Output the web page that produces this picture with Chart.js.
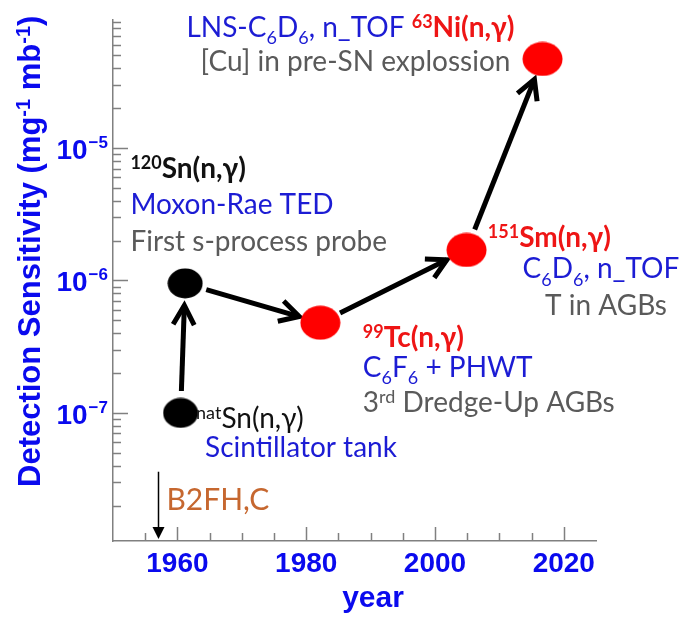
<!DOCTYPE html>
<html>
<head>
<meta charset="utf-8">
<script src="https://cdn.jsdelivr.net/npm/chart.js@4.4.1/dist/chart.umd.min.js"></script>
<style>
  html, body { margin: 0; padding: 0; background: #fff; }
  #wrap { width: 679px; height: 617px; position: relative; }
</style>
</head>
<body>
<div id="wrap"><canvas id="chart"></canvas></div>
<script>
const reactions = ['natSn(n,γ)', '120Sn(n,γ)', '99Tc(n,γ)', '151Sm(n,γ)', '63Ni(n,γ)'];
const years = [1960.5, 1961.2, 1982.2, 2004.9, 2016.7];
const sensitivity = [1.0e-7, 9.5e-7, 4.8e-7, 1.7e-6, 4.7e-5];
const radioactive = [false, false, true, true, true];

// Axis ticks
const yearTicks = [1960, 1980, 2000, 2020];
const decadeTicks = [1e-7, 1e-6, 1e-5];
const b2fhYear = 1957;

const AXIS_BLUE = '#0a0aee';
const COL = { blue: '#1c1cd4', gray: '#5a5a5a', red: '#ee1515', black: '#111', orange: '#c6672f' };
const TEXT_FONT = 'Lato, "Noto Sans", sans-serif';
const AXIS_FONT = '"Liberation Sans", Arial, sans-serif';

// small helper for rich text segments
const T = (t, c, opt = {}) => Object.assign({ t, c }, opt);

// annotation text, anchored at (year, sensitivity) of the left end of the baseline
const notes = [
    { x: 1961.4, y: 6.9e-5, segs: [T('LNS-C', 'blue'), T('6', 'blue', { s: 'sub' }), T('D', 'blue'), T('6', 'blue', { s: 'sub' }),
        T(', n_TOF ', 'blue'), T('63', 'red', { s: 'sup', b: 1 }), T('Ni(n,γ)', 'red', { b: 1 })] },
    { x: 1963.6, y: 3.81e-5, segs: [T('[Cu] in pre-SN explossion', 'gray')] },
    { x: 1952.7, y: 5.94e-6, segs: [T('120', 'black', { s: 'sup', b: 1 }), T('Sn(n,γ)', 'black', { b: 1 })] },
    { x: 1952.7, y: 3.18e-6, segs: [T('Moxon-Rae TED', 'blue')] },
    { x: 1952.7, y: 1.67e-6, segs: [T('First s-process probe', 'gray')] },
    { x: 2008.2, y: 1.79e-6, segs: [T('151', 'red', { s: 'sup', b: 1 }), T('Sm(n,γ)', 'red', { b: 1 })] },
    { x: 2013.6, y: 1.04e-6, segs: [T('C', 'blue'), T('6', 'blue', { s: 'sub' }), T('D', 'blue'), T('6', 'blue', { s: 'sub' }), T(', n_TOF', 'blue')] },
    { x: 2017.1, y: 5.5e-7, segs: [T('T in AGBs', 'gray')] },
    { x: 1988.8, y: 3.15e-7, segs: [T('99', 'red', { s: 'sup', b: 1 }), T('Tc(n,γ)', 'red', { b: 1 })] },
    { x: 1988.8, y: 1.87e-7, segs: [T('C', 'blue'), T('6', 'blue', { s: 'sub' }), T('F', 'blue'), T('6', 'blue', { s: 'sub' }), T(' + PHWT', 'blue')] },
    { x: 1988.8, y: 1.02e-7, segs: [T('3', 'gray'), T('rd', 'gray', { s: 'sup' }), T(' Dredge-Up AGBs', 'gray')] },
    { x: 1962.9, y: 7.7e-8, segs: [T('nat', 'black', { s: 'sup' }), T('Sn(n,γ)', 'black')] },
    { x: 1964.3, y: 4.66e-8, segs: [T('Scintillator tank', 'blue')] },
    { x: 1958.3, y: 1.85e-8, size: 30, segs: [T('B2FH,C', 'orange')] }
];

function richText(ctx, x, y, segs, size, family) {
    ctx.textBaseline = 'alphabetic';
    ctx.textAlign = 'left';
    for (const s of segs) {
        const small = s.s === 'sup' || s.s === 'sub';
        const fs = small ? Math.round(size * 0.63) : size;
        ctx.font = (s.b ? 'bold ' : '') + fs + 'px ' + family;
        ctx.fillStyle = COL[s.c] || s.c;
        const dy = s.s === 'sup' ? -size * 0.33 : s.s === 'sub' ? size * 0.27 : 0;
        ctx.fillText(s.t, x, y + dy);
        x += ctx.measureText(s.t).width;
    }
}

function ellipseImg(color, w, h) {
    const c = document.createElement('canvas');
    c.width = w; c.height = h;
    const g = c.getContext('2d');
    g.fillStyle = color;
    g.beginPath();
    g.ellipse(w / 2, h / 2, w / 2 - 0.5, h / 2 - 0.5, 0, 0, Math.PI * 2);
    g.fill();
    return c;
}
const blackDot = ellipseImg('#000', 36, 31);
const redDot = ellipseImg('#ff0000', 41, 35);

function arrow(ctx, x0, y0, x1, y1, trim0, trim1) {
    const dx = x1 - x0, dy = y1 - y0, L = Math.hypot(dx, dy);
    const ux = dx / L, uy = dy / L;
    const sx = x0 + ux * trim0, sy = y0 + uy * trim0;
    const ex = x1 - ux * trim1, ey = y1 - uy * trim1;
    const a = Math.atan2(uy, ux), h = 22, w = 0.5;
    ctx.beginPath();
    ctx.moveTo(sx, sy);
    ctx.lineTo(ex, ey);
    ctx.stroke();
    ctx.beginPath();
    ctx.moveTo(ex - h * Math.cos(a - w), ey - h * Math.sin(a - w));
    ctx.lineTo(ex, ey);
    ctx.lineTo(ex - h * Math.cos(a + w), ey - h * Math.sin(a + w));
    ctx.stroke();
}

const decor = {
    id: 'decor',
    beforeDatasetsDraw(chart) {
        const { ctx, scales: { x, y } } = chart;
        ctx.save();
        ctx.strokeStyle = '#000';
        ctx.lineWidth = 5;
        ctx.lineJoin = 'miter';
        for (let i = 0; i < years.length - 1; i++) {
            arrow(ctx, x.getPixelForValue(years[i]), y.getPixelForValue(sensitivity[i]),
                x.getPixelForValue(years[i + 1]), y.getPixelForValue(sensitivity[i + 1]), 22, 22);
        }
        ctx.restore();
    },
    afterDraw(chart) {
        const { ctx, chartArea: ca, scales: { x, y } } = chart;
        ctx.save();
        // inward tick marks
        ctx.strokeStyle = '#808080';
        ctx.lineWidth = 1.5;
        ctx.beginPath();
        for (let yr = 1955; yr <= 2025; yr += 5) {
            const px = Math.round(x.getPixelForValue(yr)) + 0.5;
            if (px < ca.left + 2 || px > ca.right - 2) continue;
            const len = yearTicks.includes(yr) ? 14 : 8;
            ctx.moveTo(px, ca.bottom);
            ctx.lineTo(px, ca.bottom - len);
        }
        for (let e = -8; e <= -5; e++) {
            for (let m = 1; m <= 9; m++) {
                const v = m * Math.pow(10, e);
                if (v < y.min || v > y.max) continue;
                const py = Math.round(y.getPixelForValue(v)) + 0.5;
                const len = m === 1 ? 15 : 8;
                ctx.moveTo(ca.left, py);
                ctx.lineTo(ca.left + len, py);
            }
        }
        ctx.stroke();

        // y tick labels 10^-n
        ctx.fillStyle = AXIS_BLUE;
        ctx.textBaseline = 'alphabetic';
        ctx.textAlign = 'right';
        for (const v of decadeTicks) {
            const py = y.getPixelForValue(v);
            const sup = '\u2212' + Math.round(-Math.log10(v));
            ctx.font = 'bold 17px ' + AXIS_FONT;
            const sw = ctx.measureText(sup).width;
            ctx.fillText(sup, ca.left - 5, py + 0);
            ctx.font = 'bold 28px ' + AXIS_FONT;
            ctx.fillText('10', ca.left - 5 - sw - 1, py + 11);
        }

        // y axis title
        ctx.save();
        ctx.translate(40, 487);
        ctx.rotate(-Math.PI / 2);
        richText(ctx, 0, 0, [T('Detection Sensitivity (mg', AXIS_BLUE, { b: 1 }), T('-1', AXIS_BLUE, { s: 'sup', b: 1 }),
            T(' mb', AXIS_BLUE, { b: 1 }), T('-1', AXIS_BLUE, { s: 'sup', b: 1 }), T(')', AXIS_BLUE, { b: 1 })], 31, AXIS_FONT);
        ctx.restore();

        // x axis title
        ctx.font = 'bold 30px ' + AXIS_FONT;
        ctx.fillStyle = AXIS_BLUE;
        ctx.textAlign = 'center';
        ctx.fillText('year', 373, 607);

        // annotations
        for (const n of notes) {
            richText(ctx, x.getPixelForValue(n.x), y.getPixelForValue(n.y), n.segs, n.size || 28, TEXT_FONT);
        }

        // B2FH arrow
        const bx = Math.round(x.getPixelForValue(b2fhYear)) + 0.5;
        ctx.strokeStyle = '#000';
        ctx.fillStyle = '#000';
        ctx.lineWidth = 1.5;
        ctx.beginPath();
        ctx.moveTo(bx, y.getPixelForValue(3.6e-8));
        ctx.lineTo(bx, ca.bottom - 12);
        ctx.stroke();
        ctx.beginPath();
        ctx.moveTo(bx - 6, ca.bottom - 14);
        ctx.lineTo(bx + 6, ca.bottom - 14);
        ctx.lineTo(bx, ca.bottom - 2);
        ctx.closePath();
        ctx.fill();
        ctx.restore();
    }
};

new Chart(document.getElementById('chart'), {
    type: 'scatter',
    data: {
        labels: reactions,
        datasets: [{
            label: 'Detection sensitivity',
            data: years.map((yr, i) => ({ x: yr, y: sensitivity[i] })),
            pointStyle: ctx => radioactive[ctx.dataIndex] ? redDot : blackDot,
            pointRadius: 18,
            pointHoverRadius: 18
        }]
    },
    options: {
        responsive: true,
        maintainAspectRatio: false,
        animation: false,
        layout: { padding: { left: 113, top: 20, right: 83, bottom: 0 } },
        plugins: { legend: { display: false }, tooltip: { enabled: false } },
        scales: {
            x: {
                type: 'linear',
                min: 1950,
                max: 2025,
                grid: { display: false, drawTicks: false },
                border: { display: true, color: '#808080', width: 1.5 },
                afterBuildTicks: s => { s.ticks = yearTicks.map(v => ({ value: v })); },
                afterFit: s => { s.height = 76; },
                ticks: {
                    autoSkip: false,
                    maxRotation: 0,
                    padding: 6,
                    color: AXIS_BLUE,
                    font: { family: AXIS_FONT, size: 28, weight: 'bold' },
                    callback: v => String(v)
                }
            },
            y: {
                type: 'logarithmic',
                min: 1.08e-8,
                max: 9.25e-5,
                grid: { display: false, drawTicks: false },
                border: { display: true, color: '#808080', width: 1.5 },
                ticks: { display: false },
                afterFit: s => { s.width = 0; }
            }
        }
    },
    plugins: [decor]
});
</script>
</body>
</html>
